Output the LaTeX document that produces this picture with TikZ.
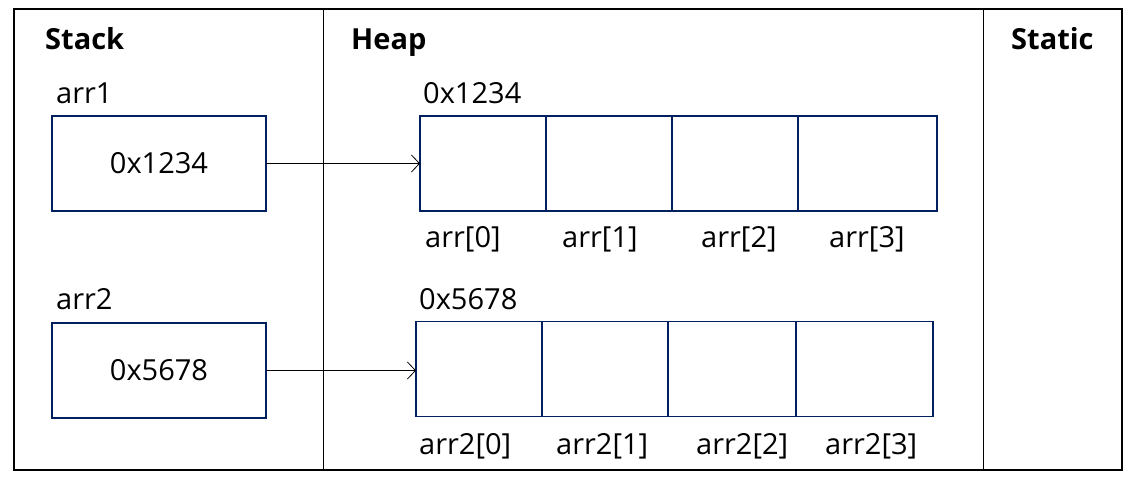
\documentclass[tikz,border=0pt]{standalone}
\usepackage{fontspec}
\setmainfont{Open Sans}
\usetikzlibrary{positioning,arrows.meta}
\definecolor{navy}{RGB}{0,32,96}
\begin{document}
\begin{tikzpicture}[x=1pt,y=-1pt,node distance=0pt,
			font=\fontsize{29}{34}\selectfont,
			head/.style = {anchor=base west, inner sep=0pt, font=\fontsize{29}{34}\selectfont\bfseries},
			lbl/.style = {anchor=base west, inner sep=0pt},
			var box/.style = {draw=navy, line width=1.8pt, minimum width=214pt, minimum height=95pt, inner sep=0pt, outer sep=0pt},
			cell/.style = {draw=navy, line width=1.5pt, minimum width=126pt, minimum height=95pt, inner sep=0pt, outer sep=0pt},
			ptr/.style = {-{Straight Barb[length=8pt,width=17pt]}, line width=0.8pt}]
			
			\useasboundingbox (0,0) rectangle (1140,478);
			
			% memory areas
			\draw[line width=2.5pt] (14,9) rectangle (1122,470);
			\draw[line width=1pt] (323,9) -- (323,470);
			\draw[line width=1pt] (983,9) -- (983,470);
			\node[head] (stack) at (45,50) {Stack};
			\node[head] (heap) at (351,50) {Heap};
			\node[head] (static) at (1011,50) {Static};
			
			% stack variables
			\node[var box] (arr1) at (159,163.5) {0x1234};
			\node[var box] (arr2) at (159,370.5) {0x5678};
			\node[lbl] (n1) at (56,104) {arr1};
			\node[lbl] (n2) at (56,309) {arr2};
			
			% first array
			\node[cell] (a0) at (483,163.5) {};
			\node[cell, right=of a0] (a1) {};
			\node[cell, right=of a1] (a2) {};
			\node[cell, right=of a2, minimum width=139pt] (a3) {};
			\node[lbl] (ad1) at (423,104) {0x1234};
			\node[lbl] (i0) at (425,248) {arr[0]};
			\node[lbl] (i1) at (562,248) {arr[1]};
			\node[lbl] (i2) at (701,248) {arr[2]};
			\node[lbl] (i3) at (829,248) {arr[3]};
			
			% second array
			\node[cell] (b0) at (479,369) {};
			\node[cell, right=of b0] (b1) {};
			\node[cell, right=of b1, minimum width=128pt] (b2) {};
			\node[cell, right=of b2, minimum width=137pt] (b3) {};
			\node[lbl] (ad2) at (419,309) {0x5678};
			\node[lbl] (j0) at (419,454) {arr2[0]};
			\node[lbl] (j1) at (556,454) {arr2[1]};
			\node[lbl] (j2) at (696,454) {arr2[2]};
			\node[lbl] (j3) at (825,454) {arr2[3]};
			
			% pointers
			\draw[ptr] (arr1.east) -- (a0.west);
			\draw[ptr] (arr2.east) -- (arr2.east -| b0.west);
			
\end{tikzpicture}
\end{document}
